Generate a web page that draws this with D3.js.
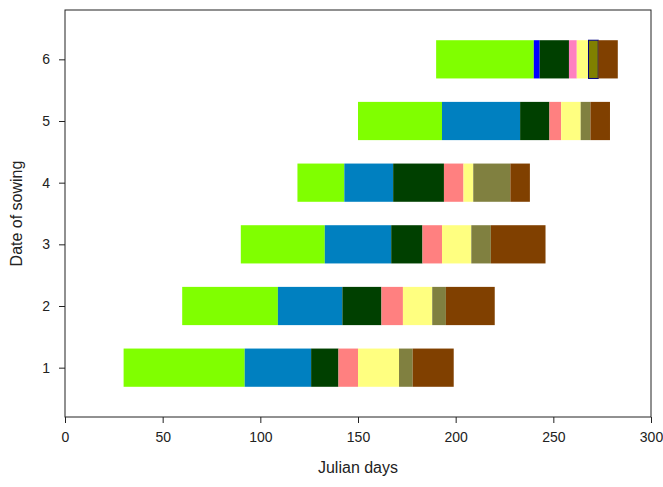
<!DOCTYPE html>
<html>
<head>
<meta charset="utf-8">
<script src="https://cdn.jsdelivr.net/npm/d3@7"></script>
<style>
  body { margin: 0; background: #fff; }
  text { font-family: "Liberation Sans", Arial, sans-serif; }
</style>
</head>
<body>
<svg id="chart" width="663" height="487"></svg>
<script>
// sowing dates (y categories)
var sowingDates = [1, 2, 3, 4, 5, 6];

// start day of the first phase for each sowing date
var startDays = [30, 60, 90, 119, 150, 190];

// end day of each phase, per sowing date
var phaseEnds = [
  [92, 126, 140, 150, 171, 178, 199],
  [109, 142, 162, 173, 188, 195, 220],
  [133, 167, 183, 193, 208, 218, 246],
  [143, 168, 194, 204, 209, 228, 238],
  [193, 233, 248, 254, 264, 269, 279],
  [240, 243, 258, 262, 268, 273, 283]
];

var phaseColors = ["#80ff00", "#0080c0", "#004000", "#ff8080", "#ffff80", "#808040", "#804000"];
var lastRowColors = ["#80ff00", "#0000ff", "#004000", "#ff80c0", "#ffff80", "#808000", "#804000"];

var xTicks = [0, 50, 100, 150, 200, 250, 300];

var svg = d3.select("#chart");
var mLeft = 65, mRight = 651, mTop = 10, mBottom = 417;

var x = d3.scaleLinear().domain([0, 300]).range([mLeft, mRight]);
var y = d3.scaleLinear().domain([0.2, 6.8]).range([mBottom, mTop]);
var barH = y(0) - y(0.62);

// build segments
var segments = [];
sowingDates.forEach(function(d, i) {
  var prev = startDays[i];
  phaseEnds[i].forEach(function(end, j) {
    segments.push({
      row: d, from: prev, to: end,
      color: d === 6 ? lastRowColors[j] : phaseColors[j],
      outline: d === 6 && j === 5
    });
    prev = end;
  });
});

svg.selectAll("rect.seg")
  .data(segments)
  .enter().append("rect")
  .attr("class", "seg")
  .attr("x", function(d) { return x(d.from); })
  .attr("y", function(d) { return y(d.row) - barH / 2; })
  .attr("width", function(d) { return x(d.to) - x(d.from); })
  .attr("height", barH)
  .style("fill", function(d) { return d.color; })
  .style("stroke", function(d) { return d.outline ? "#000080" : "none"; })
  .style("stroke-width", 1);

// frame
svg.append("rect")
  .attr("x", mLeft).attr("y", mTop)
  .attr("width", mRight - mLeft).attr("height", mBottom - mTop)
  .style("fill", "none").style("stroke", "#222").style("stroke-width", 1);

var xAxis = svg.append("g")
  .attr("transform", "translate(0," + mBottom + ")")
  .call(d3.axisBottom(x).tickValues(xTicks).tickSize(6).tickPadding(9));
xAxis.select(".domain").remove();

var yAxis = svg.append("g")
  .attr("transform", "translate(" + mLeft + ",0)")
  .call(d3.axisLeft(y).tickValues(sowingDates).tickFormat(d3.format("d")).tickSize(6).tickPadding(9));
yAxis.select(".domain").remove();

svg.selectAll(".tick line").style("stroke", "#222");
svg.selectAll(".tick text")
  .style("font-size", "14px")
  .style("fill", "#222");

svg.append("text")
  .attr("x", 358).attr("y", 473)
  .attr("text-anchor", "middle")
  .style("font-size", "16px").style("fill", "#222")
  .text("Julian days");

svg.append("text")
  .attr("transform", "translate(22," + (mTop + mBottom) / 2 + ") rotate(-90)")
  .attr("text-anchor", "middle")
  .style("font-size", "16px").style("fill", "#222")
  .text("Date of sowing");
</script>
</body>
</html>
